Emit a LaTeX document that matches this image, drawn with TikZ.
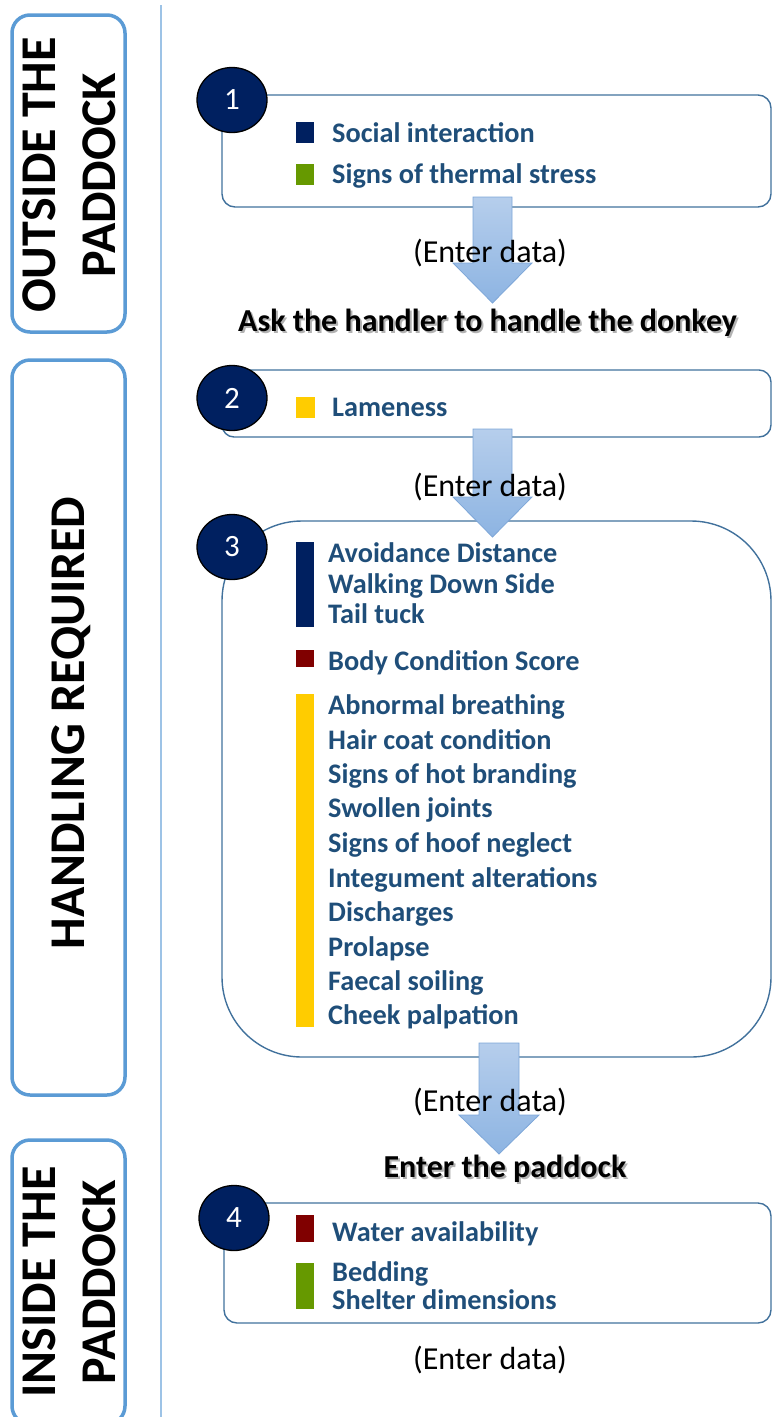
\documentclass[tikz,border=0pt]{standalone}
\usepackage{fontspec}
\setmainfont{Carlito}
\usetikzlibrary{shapes.geometric}
\definecolor{navyc}{RGB}{0,32,96}
\definecolor{textblue}{RGB}{31,78,121}
\definecolor{boxline}{RGB}{65,113,156}
\definecolor{sideline}{RGB}{91,155,213}
\definecolor{vline}{RGB}{157,195,230}
\definecolor{sqgreen}{RGB}{102,153,0}
\definecolor{sqyellow}{RGB}{255,204,0}
\definecolor{sqred}{RGB}{128,0,0}
\definecolor{arrtop}{RGB}{182,206,236}
\definecolor{arrbot}{RGB}{141,180,226}
\definecolor{arrline}{RGB}{125,166,216}
\begin{document}
\begin{tikzpicture}[x=1pt,y=-1pt,
  sidebox/.style={draw=sideline, line width=3.5pt, rounded corners=18pt},
  sidetxt/.style={inner sep=0pt, align=center, font=\fontsize{50}{60}\selectfont\bfseries, text=black},
  cbox/.style={draw=boxline, line width=1.4pt},
  numcirc/.style={ellipse, draw=black, line width=1.3pt, fill=navyc, minimum width=70pt, minimum height=65pt, inner sep=0pt, text=white, font=\fontsize{31}{34}\selectfont},
  itemtxt/.style={anchor=west, inner sep=0pt, text=textblue, font=\fontsize{28.3}{34}\selectfont\bfseries, text height=18pt, text depth=0pt},
  enterdata/.style={inner sep=0pt, text=black, font=\fontsize{32}{38}\selectfont, text height=20pt, text depth=0pt},
  bigmsg/.style={inner sep=0pt, font=\fontsize{32}{38}\selectfont\bfseries, text height=20pt, text depth=0pt},
  shadowmsg/.style={bigmsg, text=black, opacity=0.3},
  blockarrow/.style={top color=arrtop, bottom color=arrbot, draw=arrline, line width=0.8pt}
]
\useasboundingbox (0,0) rectangle (772,1417);

% left side panels
\draw[sidebox] (12,15) rectangle (125,332);
\draw[sidebox] (12,360) rectangle (125,1095);
\draw[sidebox] (12,1140) rectangle (125,1424);
\node[sidetxt, rotate=90] (outside) at (69,175) {OUTSIDE THE\\PADDOCK};
\node[sidetxt, rotate=90] (handling) at (71,723) {HANDLING REQUIRED};
\node[sidetxt, rotate=90] (inside) at (69,1282) {INSIDE THE\\PADDOCK};

% separator
\coordinate (vtop) at (161,5);
\coordinate (vbot) at (161,1420);
\draw[vline, line width=1.3pt] (vtop) -- (vbot);

% content boxes
\draw[cbox, rounded corners=13pt] (222,95) rectangle (771,207);
\draw[cbox, rounded corners=12pt] (222,370) rectangle (771,437);
\draw[cbox, rounded corners=80pt] (222,521) rectangle (771,1057);
\draw[cbox, rounded corners=13pt] (224,1203) rectangle (771,1323);

% number circles
\node[numcirc] (c1) at (232,100) {1};
\node[numcirc] (c2) at (232,398) {2};
\node[numcirc] (c3) at (232,547) {3};
\node[numcirc] (c4) at (234,1218) {4};

% box 1
\fill[navyc] (296,122) rectangle (314,143);
\fill[sqgreen] (296,164) rectangle (314,185);
\node[itemtxt] (t11) at (332,133) {Social interaction};
\node[itemtxt] (t12) at (332,174) {Signs of thermal stress};

% box 2
\fill[sqyellow] (296,397) rectangle (315,418);
\node[itemtxt] (t21) at (332,407) {Lameness};

% box 3
\fill[navyc] (296,542) rectangle (314,627);
\fill[sqred] (296,650) rectangle (314,667);
\fill[sqyellow] (296,694) rectangle (314,1027);
\node[itemtxt] (t31) at (328,553) {Avoidance Distance};
\node[itemtxt] (t32) at (328,584) {Walking Down Side};
\node[itemtxt] (t33) at (328,614) {Tail tuck};
\node[itemtxt] (t34) at (328,661) {Body Condition Score};
\node[itemtxt] (t35) at (328,705) {Abnormal breathing};
\node[itemtxt] (t36) at (328,740) {Hair coat condition};
\node[itemtxt] (t37) at (328,774) {Signs of hot branding};
\node[itemtxt] (t38) at (328,808) {Swollen joints};
\node[itemtxt] (t39) at (328,843) {Signs of hoof neglect};
\node[itemtxt] (t310) at (328,878) {Integument alterations};
\node[itemtxt] (t311) at (328,912) {Discharges};
\node[itemtxt] (t312) at (328,947) {Prolapse};
\node[itemtxt] (t313) at (328,981) {Faecal soiling};
\node[itemtxt] (t314) at (328,1015) {Cheek palpation};

% box 4
\fill[sqred] (296,1215) rectangle (314,1242);
\fill[sqgreen] (296,1263) rectangle (314,1309);
\node[itemtxt] (t41) at (332,1232) {Water availability};
\node[itemtxt] (t42) at (332,1272) {Bedding};
\node[itemtxt] (t43) at (332,1300) {Shelter dimensions};

% block arrows
\shade[blockarrow] (473,197) -- (512,197) -- (512,263) -- (532,263) -- (492.5,303) -- (453,263) -- (473,263) -- cycle;
\shade[blockarrow] (473,429) -- (512,429) -- (512,497) -- (532,497) -- (492.5,537) -- (453,497) -- (473,497) -- cycle;
\shade[blockarrow] (479,1043) -- (519,1043) -- (519,1115) -- (539,1115) -- (499,1154) -- (459,1115) -- (479,1115) -- cycle;

% enter data labels
\node[enterdata] (e1) at (490,252) {(Enter data)};
\node[enterdata] (e2) at (490,486) {(Enter data)};
\node[enterdata] (e3) at (490,1101) {(Enter data)};
\node[enterdata] (e4) at (490,1359) {(Enter data)};

% headings with shadow
\node[shadowmsg] (askshadow) at (489.5,323.5) {Ask the handler to handle the donkey};
\node[shadowmsg] (entershadow) at (507,1169.5) {Enter the paddock};
\node[bigmsg] (ask) at (487.5,321) {Ask the handler to handle the donkey};
\node[bigmsg] (enter) at (505,1167) {Enter the paddock};
\end{tikzpicture}
\end{document}
